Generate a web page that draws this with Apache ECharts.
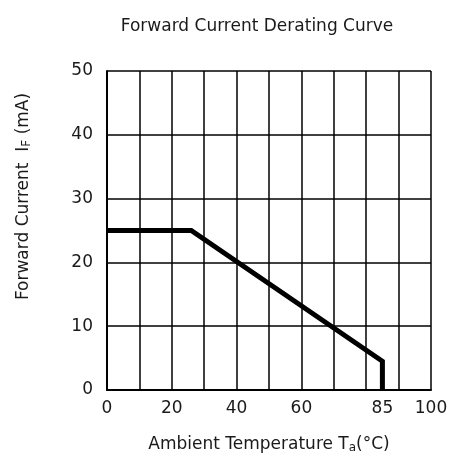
<!DOCTYPE html>
<html>
<head>
<meta charset="utf-8">
<script src="https://cdn.jsdelivr.net/npm/echarts@6/dist/echarts.min.js"></script>
<style>
	html, body { margin: 0; padding: 0; background: #fff; }
	#main { width: 462px; height: 461px; }
</style>
</head>
<body>
<div id="main"></div>
<script type="text/javascript">
	// derating curve
	var tempC = [0, 26, 85, 85];
	var currentMA = [25, 25, 4.5, 0];
	var xLabelValues = [0, 20, 40, 60, 85, 100];

	var points = tempC.map(function (t, i) { return [t, currentMA[i]]; });

	var font = 'DejaVu Sans, sans-serif';
	var ink = '#1a1a1a';
	var nameRich = {
		s: { fontFamily: font, fontSize: 17, color: ink },
		sub: { fontFamily: font, fontSize: 12, color: ink, verticalAlign: 'bottom', padding: [7, 0, 0, 0] }
	};
	var myChart = echarts.init(document.getElementById('main'));
	var option = {
		backgroundColor: '#fff',
		animation: false,
		title: {
			text: 'Forward Current Derating Curve',
			left: 252,
			textAlign: 'center',
			top: 13,
			textStyle: { fontFamily: font, fontSize: 17, fontWeight: 'normal', color: ink }
		},
		grid: { left: 107, right: 31, top: 71, bottom: 71 },
		xAxis: {
			type: 'value',
			min: 0,
			max: 100,
			interval: 10,
			name: 'Ambient Temperature {s|T}{sub|a}(°C)',
			nameLocation: 'middle',
			nameGap: 45,
			nameTextStyle: { fontFamily: font, fontSize: 17, color: ink, rich: nameRich },
			axisLine: { show: true, lineStyle: { color: '#000', width: 2 } },
			axisTick: { show: false },
			axisLabel: {
				customValues: xLabelValues,
				margin: 10,
				fontFamily: font, fontSize: 17, color: ink
			},
			splitLine: { show: true, lineStyle: { color: '#000', width: 1.5 } }
		},
		yAxis: {
			type: 'value',
			min: 0,
			max: 50,
			interval: 10,
			name: 'Forward Current  {s|I}{sub|F} (mA)',
			nameLocation: 'middle',
			nameGap: 74,
			nameRotate: 90,
			nameTextStyle: {
				fontFamily: font, fontSize: 17, color: ink,
				padding: [0, 0, 0, 68],
				rich: nameRich
			},
			axisLine: { show: true, lineStyle: { color: '#000', width: 2 } },
			axisTick: { show: false },
			axisLabel: { margin: 14, fontFamily: font, fontSize: 17, color: ink },
			splitLine: { show: true, lineStyle: { color: '#000', width: 1.5 } }
		},
		series: [{
			type: 'line',
			data: points,
			symbol: 'none',
			lineStyle: { color: '#000', width: 5, join: 'miter' },
			z: 5
		}]
	};
	myChart.setOption(option);
</script>
</body>
</html>
